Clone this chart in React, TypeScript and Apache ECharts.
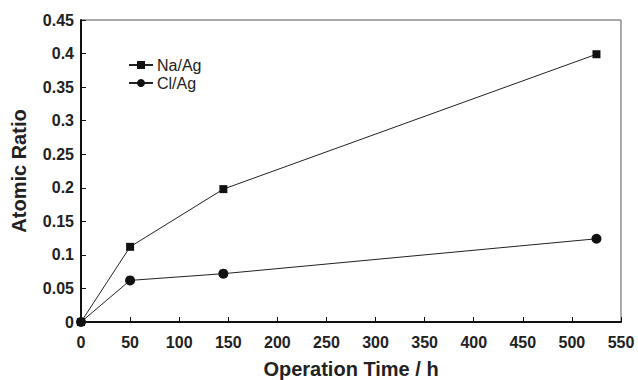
import React, { useEffect, useRef } from "react";
import * as echarts from "echarts";

const timesH = [0, 50, 145, 525];
const naAg = [0, 0.112, 0.198, 0.399];
const clAg = [0, 0.062, 0.072, 0.124];
const seriesNames = ["Na/Ag", "Cl/Ag"];

export default function App() {
  const ref = useRef<HTMLDivElement>(null);
  useEffect(() => {
    if (!ref.current) return;
    const chart = echarts.init(ref.current, null, { renderer: "svg" });
    const font = "Liberation Sans, Arial, sans-serif";
    chart.setOption({
      animation: false,
      backgroundColor: "#fff",
      grid: {
        left: 81,
        top: 20,
        right: 17,
        bottom: 58,
        outerBoundsMode: "none",
        containLabel: false,
        show: true,
        borderColor: "#555",
        borderWidth: 1,
        backgroundColor: "transparent",
      },
      legend: {
        orient: "vertical",
        left: 128,
        top: 57,
        padding: 0,
        itemWidth: 24,
        itemHeight: 10,
        itemGap: 2,
        textStyle: { fontFamily: font, fontSize: 16, lineHeight: 16, color: "#222", padding: [0, 0, 0, -1] },
        data: seriesNames,
      },
      xAxis: {
        type: "value",
        min: 0,
        max: 550,
        interval: 50,
        name: "Operation Time / h",
        nameLocation: "middle",
        nameGap: 37,
        nameTextStyle: { fontFamily: font, fontSize: 20, fontWeight: "bold", color: "#222" },
        axisLine: { show: true, lineStyle: { color: "#111", width: 2 } },
        axisTick: { show: true, inside: true, length: 5, lineStyle: { color: "#111", width: 1 } },
        axisLabel: { fontFamily: font, fontSize: 16, fontWeight: "bold", color: "#222", margin: 12 },
        splitLine: { show: false },
      },
      yAxis: {
        type: "value",
        min: 0,
        max: 0.45,
        interval: 0.05,
        name: "Atomic Ratio",
        nameLocation: "middle",
        nameGap: 52,
        nameRotate: 90,
        nameTextStyle: { fontFamily: font, fontSize: 20, fontWeight: "bold", color: "#222" },
        axisLine: { show: true, lineStyle: { color: "#111", width: 2 } },
        axisTick: { show: true, inside: true, length: 5, lineStyle: { color: "#111", width: 1 } },
        axisLabel: { fontFamily: font, fontSize: 16, fontWeight: "bold", color: "#222", margin: 7 },
        splitLine: { show: false },
      },
      series: [
        {
          name: seriesNames[0],
          type: "line",
          data: timesH.map((t, i) => [t, naAg[i]]),
          symbol: "rect",
          symbolSize: 8,
          itemStyle: { color: "#111" },
          lineStyle: { color: "#222", width: 1 },
        },
        {
          name: seriesNames[1],
          type: "line",
          data: timesH.map((t, i) => [t, clAg[i]]),
          symbol: "circle",
          symbolSize: 10,
          itemStyle: { color: "#111" },
          lineStyle: { color: "#222", width: 1 },
        },
      ],
    });
    return () => chart.dispose();
  }, []);
  return <div ref={ref} style={{ width: 638, height: 380, position: "absolute", left: 0, top: 0 }} />;
}
